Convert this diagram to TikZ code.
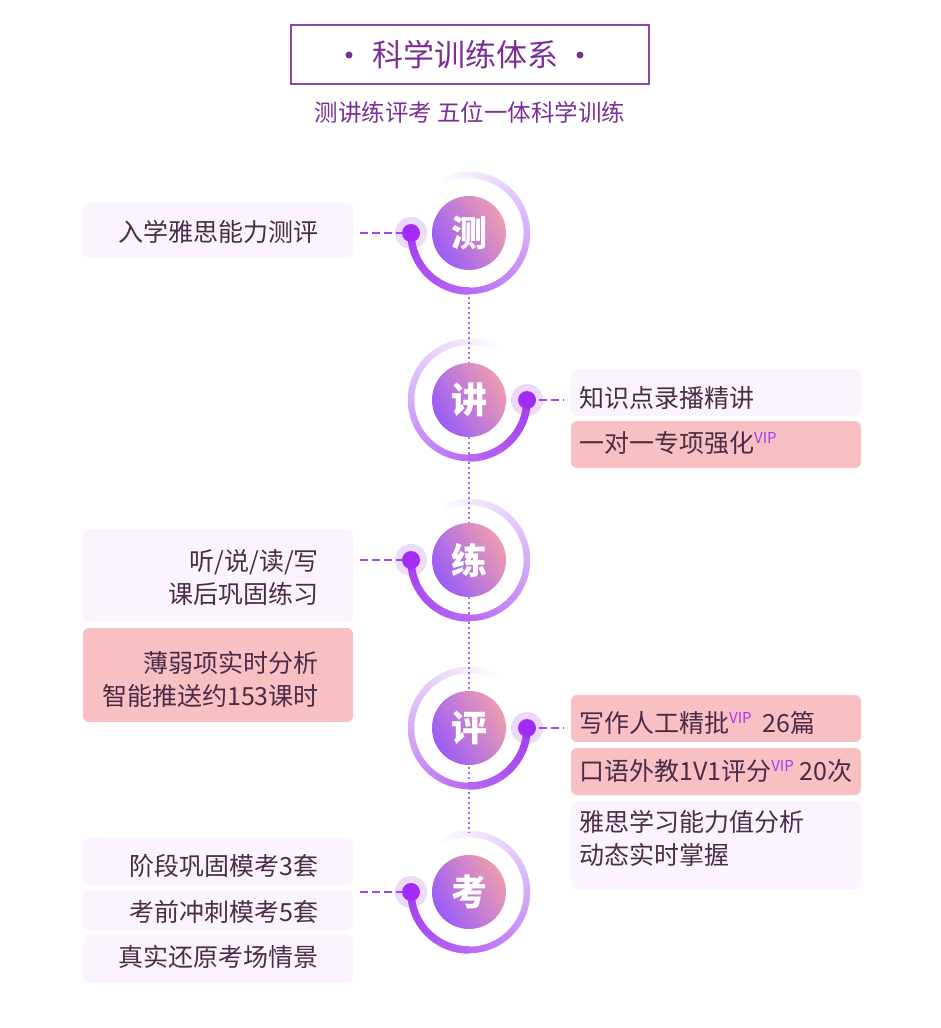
\documentclass[tikz,border=0pt]{standalone}
\usepackage{fontspec}
\setmainfont{Noto Sans CJK SC}
\usetikzlibrary{calc,shadings}
\definecolor{txt}{HTML}{4B2C48}
\definecolor{titlec}{HTML}{8E44A8}
\definecolor{titletxt}{HTML}{7B2E95}
\definecolor{boxlight}{HTML}{FBF4FE}
\definecolor{boxpink}{HTML}{F8C0C2}
\definecolor{vip}{HTML}{A63CF2}
\definecolor{rs}{HTML}{A43CF0}
\definecolor{rm}{HTML}{D6AEF9}
\definecolor{halo}{HTML}{EBDAFC}
\definecolor{dotc}{HTML}{A22CF4}
\definecolor{connc}{HTML}{A644F2}
\definecolor{dotline}{HTML}{B060F0}
\definecolor{gpur}{HTML}{9A5CF8}
\definecolor{gpink}{HTML}{EE9CB0}
\newcommand\vipmark{\raisebox{9pt}{\fontsize{15}{15}\selectfont\color{vip}VIP}}
\newcommand\ringdraw[3]{%
  \foreach \a in {0,3,...,87}{%
    \pgfmathtruncatemacro\mixv{100-\a*40/90}%
    \pgfmathsetmacro\st{#2+#3*\a}%
    \pgfmathsetmacro\da{#3*3.6}%
    \draw[shift={(#1)}, line width=7.5pt, draw=rs!\mixv!rm] (\st:58pt) arc[start angle=\st, delta angle=\da, radius=58pt];
  }%
  \foreach \a in {90,93,...,177}{%
    \pgfmathtruncatemacro\mixv{60-(\a-90)*60/90}%
    \pgfmathsetmacro\st{#2+#3*\a}%
    \pgfmathsetmacro\da{#3*3.6}%
    \draw[shift={(#1)}, line width=6.5pt, draw=rs!\mixv!rm] (\st:58pt) arc[start angle=\st, delta angle=\da, radius=58pt];
  }%
  \foreach \a in {180,183,...,297}{%
    \pgfmathtruncatemacro\mixv{100-(\a-180)*100/120}%
    \pgfmathsetmacro\st{#2+#3*\a}%
    \pgfmathsetmacro\da{#3*3.6}%
    \draw[shift={(#1)}, line width=6.5pt, draw=rm!\mixv!white] (\st:58pt) arc[start angle=\st, delta angle=\da, radius=58pt];
  }%
}
\begin{document}
\begin{tikzpicture}[x=1pt,y=1pt,
  lbox/.style={rectangle, rounded corners=6pt, fill=boxlight, inner sep=0pt, minimum width=270pt},
  pbox/.style={rectangle, rounded corners=6pt, fill=boxpink, inner sep=0pt, minimum width=270pt},
  wide/.style={minimum width=290pt},
  btxt/.style={font=\fontsize{25}{33}\selectfont, text=txt, inner sep=0pt},
  ltxt/.style={btxt, anchor=east, align=right},
  rtxt/.style={btxt, anchor=west, align=left},
  conn/.style={draw=connc, line width=2pt, dash pattern=on 8pt off 4pt},
  halostyle/.style={circle, fill=halo, minimum size=32pt, inner sep=0pt},
  dotstyle/.style={circle, fill=dotc, minimum size=18pt, inner sep=0pt},
  mainc/.style={circle, minimum size=74pt, inner sep=0pt, shade, top color=gpur, bottom color=gpink, shading angle=120, text=white, font=\fontsize{36}{36}\selectfont\bfseries},
  dots/.style={draw=dotline, line width=1.8pt, dash pattern=on 2pt off 3pt}
]
\useasboundingbox (0,0) rectangle (940,-1028);

% title
\node[draw=titlec, line width=2pt, minimum width=358pt, minimum height=59pt, inner sep=0pt] (title) at (470,-54.5) {};
\node[font=\fontsize{31}{31}\selectfont, text=titletxt, inner sep=0pt] (tt) at (465,-55) {科学训练体系};
\fill[titletxt] (349,-55) circle (3.5pt);
\fill[titletxt] (580,-55) circle (3.5pt);
\node[font=\fontsize{23.5}{23.5}\selectfont, text=titletxt, inner sep=0pt] (sub) at (470,-112) {测讲练评考 五位一体科学训练};

% centers
\coordinate (c1) at (469,-233);
\coordinate (c2) at (469,-400);
\coordinate (c3) at (469,-560);
\coordinate (c4) at (469,-728);
\coordinate (c5) at (469,-892);
\coordinate (d1) at (411,-233);
\coordinate (d2) at (527,-400);
\coordinate (d3) at (411,-560);
\coordinate (d4) at (527,-728);
\coordinate (d5) at (411,-892);

% boxes
\node[lbox, minimum height=55pt] (b1) at (218,-230.5) {};
\node[lbox, wide, minimum height=47pt] (b2a) at (716,-392.5) {};
\node[pbox, wide, minimum height=47pt] (b2b) at (716,-444.5) {};
\node[lbox, minimum height=93pt] (b3a) at (218,-575.5) {};
\node[pbox, minimum height=94pt] (b3b) at (218,-675) {};
\node[pbox, wide, minimum height=47pt] (b4a) at (716,-718.5) {};
\node[pbox, wide, minimum height=47pt] (b4b) at (716,-771.5) {};
\node[lbox, wide, minimum height=88pt] (b4c) at (716,-845) {};
\node[lbox, minimum height=47pt] (b5a) at (218,-861.5) {};
\node[lbox, minimum height=40pt] (b5b) at (218,-910) {};
\node[lbox, minimum height=48pt] (b5c) at (218,-959) {};

% box texts
\node[ltxt] (t1) at (319,-232) {入学雅思能力测评};
\node[rtxt] (t2a) at (579,-398) {知识点录播精讲};
\node[rtxt] (t2b) at (579,-443) {一对一专项强化\vipmark};
\node[ltxt] (t3a) at (319,-578) {听/说/读/写\\课后巩固练习};
\node[ltxt] (t3b) at (319,-679) {薄弱项实时分析\\智能推送约153课时};
\node[rtxt] (t4a) at (579,-723) {写作人工精批\vipmark\ \ 26篇};
\node[rtxt] (t4b) at (579,-771) {口语外教1V1评分\vipmark\ 20次};
\node[rtxt] (t4c) at (579,-838.5) {雅思学习能力值分析\\动态实时掌握};
\node[ltxt] (t5a) at (319,-866) {阶段巩固模考3套};
\node[ltxt] (t5b) at (319,-912) {考前冲刺模考5套};
\node[ltxt] (t5c) at (319,-957) {真实还原考场情景};

% halos
\foreach \i in {1,...,5} { \node[halostyle] (h\i) at (d\i) {}; }

% rings
\ringdraw{c1}{180}{1}
\ringdraw{c2}{0}{-1}
\ringdraw{c3}{180}{1}
\ringdraw{c4}{0}{-1}
\ringdraw{c5}{180}{1}

% dotted spine
\draw[dots, shorten <=59pt, shorten >=59pt] (c1) -- (c5);

% connectors
\draw[conn, shorten <=7pt] (b1.east |- d1) -- (d1);
\draw[conn, shorten >=7pt] (d2) -- (b2a.west |- d2);
\draw[conn, shorten <=7pt] (b3a.east |- d3) -- (d3);
\draw[conn, shorten >=7pt] (d4) -- (b4a.west |- d4);
\draw[conn, shorten <=7pt] (b5a.east |- d5) -- (d5);

% dots
\foreach \i in {1,...,5} { \node[dotstyle] (dd\i) at (d\i) {}; }

% main circles
\node[mainc] (m1) at (c1) {测};
\node[mainc] (m2) at (c2) {讲};
\node[mainc] (m3) at (c3) {练};
\node[mainc] (m4) at (c4) {评};
\node[mainc] (m5) at (c5) {考};
\end{tikzpicture}
\end{document}
